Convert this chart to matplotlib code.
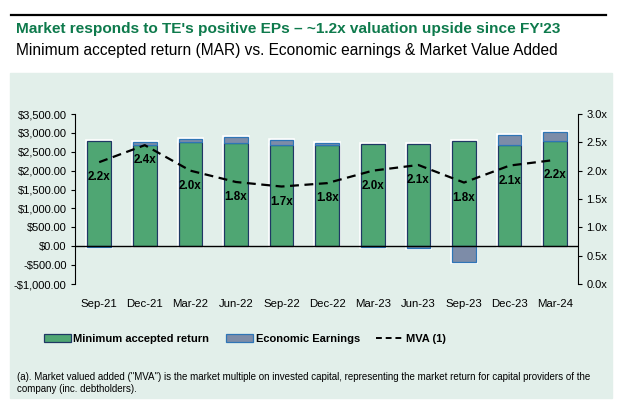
import matplotlib
matplotlib.use("Agg")
import matplotlib.pyplot as plt
from matplotlib.patches import Patch, Rectangle
from matplotlib.lines import Line2D
import numpy as np

plt.rcParams["font.family"] = ["Liberation Sans", "DejaVu Sans"]

quarters = ["Sep-21", "Dec-21", "Mar-22", "Jun-22", "Sep-22", "Dec-22",
            "Mar-23", "Jun-23", "Sep-23", "Dec-23", "Mar-24"]
mar = [2780, 2670, 2770, 2730, 2670, 2670, 2705, 2705, 2780, 2670, 2795]
econ_earnings = [-25, 100, 80, 150, 130, 50, -25, -40, -430, 265, 220]
mva = [2.15, 2.45, 2.0, 1.8, 1.72, 1.78, 2.0, 2.1, 1.79, 2.09, 2.19]
mva_labels = ["2.2x", "2.4x", "2.0x", "1.8x", "1.7x", "1.8x",
              "2.0x", "2.1x", "1.8x", "2.1x", "2.2x"]
left_ticks = [-1000, -500, 0, 500, 1000, 1500, 2000, 2500, 3000, 3500]
right_ticks = [0.0, 0.5, 1.0, 1.5, 2.0, 2.5, 3.0]

GREEN = "#4fa673"
GREEN_EDGE = "#1f3864"
GREY = "#7d8ca8"
GREY_EDGE = "#2e75b6"
PANEL = "#e2efea"
TITLE_GREEN = "#0e7a4c"

W, H = 640, 413
fig = plt.figure(figsize=(W / 100, H / 100), dpi=100)

# background panel and top rule
fig.add_artist(Rectangle((10 / W, 1 - 398 / H), 602 / W, 325 / H,
                         transform=fig.transFigure, color=PANEL, zorder=-10))
fig.add_artist(Line2D([11 / W, 606 / W], [1 - 15 / H, 1 - 15 / H],
                      transform=fig.transFigure, color="black", lw=1.6))
fig.text(16 / W, 1 - 29 / H, "Market responds to TE's positive EPs \u2013 ~1.2x valuation upside since FY'23",
         color=TITLE_GREEN, fontsize=11.1, fontweight="bold", va="center")
fig.text(16 / W, 1 - 50 / H, "Minimum accepted return (MAR) vs. Economic earnings & Market Value Added",
         color="black", fontsize=11.2, va="center")

ax = fig.add_axes([75 / W, 1 - 284 / H, (578 - 75) / W, (284 - 114) / H])
ax.set_facecolor("none")
x = np.arange(len(quarters))
ee = np.array(econ_earnings)
ee_bottom = np.where(ee > 0, mar, 0)

# thin white halo behind the bars, as in the source
ax.bar(x, mar, width=0.52, color="none", edgecolor="white", lw=2.6, zorder=2)
ax.bar(x, ee, bottom=ee_bottom, width=0.52, color="none", edgecolor="white", lw=2.6, zorder=2)
ax.bar(x, mar, width=0.52, color=GREEN, edgecolor=GREEN_EDGE, lw=0.9, zorder=3)
ax.bar(x, ee, bottom=ee_bottom, width=0.52, color=GREY, edgecolor=GREY_EDGE, lw=0.9, zorder=3)
ax.axhline(0, color="black", lw=1, zorder=4)

ax.set_xlim(-0.53, 10.5)
ax.set_ylim(-1000, 3500)
ax.set_yticks(left_ticks)
ax.set_yticklabels([("-$" if v < 0 else "$") + f"{abs(v):,.2f}" for v in left_ticks])
ax.set_xticks(x)
ax.set_xticklabels(quarters)
ax.tick_params(axis="x", length=0, pad=11, labelsize=8.2)
ax.tick_params(axis="y", length=3, width=0.8, labelsize=8, pad=3)
for s in ["top", "bottom", "right"]:
    ax.spines[s].set_visible(False)
ax.spines["left"].set_linewidth(0.8)

ax2 = ax.twinx()
ax2.set_ylim(0, 3)
ax2.set_yticks(right_ticks)
ax2.set_yticklabels([f"{v:.1f}x" for v in right_ticks])
ax2.tick_params(axis="y", length=3, width=0.8, labelsize=8, pad=3)
for s in ["top", "bottom", "left"]:
    ax2.spines[s].set_visible(False)
ax2.spines["right"].set_linewidth(0.8)
ax2.plot(x, mva, color="black", lw=1.6, ls=(0, (4, 2.5)), zorder=5)
for xi, yi, lab in zip(x, mva, mva_labels):
    ax2.annotate(lab, (xi, yi), xytext=(0, -11), textcoords="offset points",
                 ha="center", va="center", fontsize=8.4, fontweight="bold", zorder=6)

handles = [Patch(facecolor=GREEN, edgecolor=GREEN_EDGE, lw=0.9),
           Patch(facecolor=GREY, edgecolor=GREY_EDGE, lw=0.9),
           Line2D([], [], color="black", lw=1.4, ls=(0, (3, 2)))]
fig.legend(handles, ["Minimum accepted return", "Economic Earnings", "MVA (1)"],
           loc="center left", bbox_to_anchor=(34 / W, 1 - 339 / H), ncol=3, frameon=False,
           prop={"weight": "bold", "size": 8.0}, handlelength=2.4, handleheight=0.7,
           handletextpad=0.25, columnspacing=1.5)

fig.text(17 / W, 1 - 383 / H,
         "(a). Market valued added (\"MVA\") is the market multiple on invested capital, representing the market return for capital providers of the\ncompany (inc. debtholders).",
         fontsize=7.0, va="center", linespacing=1.3)

fig.savefig("out.png", dpi=100)
